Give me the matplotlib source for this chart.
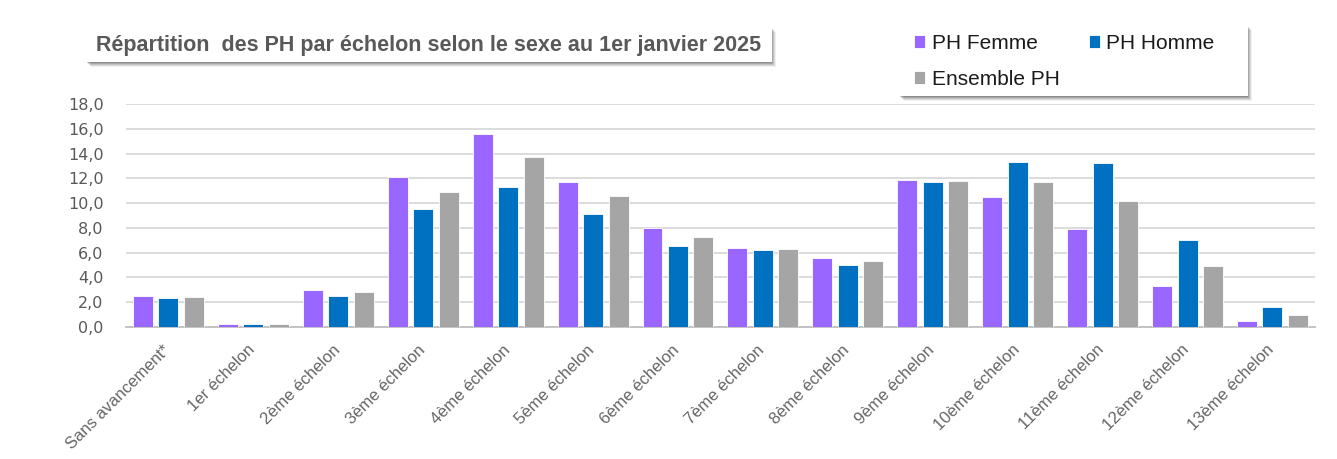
import matplotlib
matplotlib.use("Agg")
import matplotlib.pyplot as plt
from matplotlib.patches import Rectangle
from matplotlib.transforms import ScaledTranslation
import numpy as np

categories = ["Sans avancement*", "1er échelon", "2ème échelon", "3ème échelon",
              "4ème échelon", "5ème échelon", "6ème échelon", "7ème échelon",
              "8ème échelon", "9ème échelon", "10ème échelon", "11ème échelon",
              "12ème échelon", "13ème échelon"]
ph_femme = [2.5, 0.25, 3.0, 12.1, 15.6, 11.7, 8.0, 6.4, 5.6, 11.9, 10.5, 7.9, 3.3, 0.5]
ph_homme = [2.3, 0.25, 2.5, 9.5, 11.3, 9.1, 6.5, 6.2, 5.0, 11.7, 13.3, 13.2, 7.0, 1.6]
ensemble = [2.4, 0.25, 2.8, 10.9, 13.7, 10.6, 7.3, 6.3, 5.3, 11.8, 11.7, 10.2, 4.9, 1.0]
series_names = ["PH Femme", "PH Homme", "Ensemble PH"]
yticks = [0, 2, 4, 6, 8, 10, 12, 14, 16, 18]
title = "Répartition  des PH par échelon selon le sexe au 1er janvier 2025"

colors = ["#9966FF", "#0070C0", "#A5A5A5"]
txt_gray = "#595959"
W, H = 1337, 459

fig = plt.figure(figsize=(W / 100, H / 100), dpi=100)
ax = fig.add_axes([0.0942, 0.2876, 0.8893, 0.4858])

x = np.arange(len(categories))
w = 0.235
offs = [-0.3, 0.0, 0.3]
handles = []
for vals, off, c, name in zip([ph_femme, ph_homme, ensemble], offs, colors, series_names):
    b = ax.bar(x + off, vals, width=w, color=c, edgecolor="white", linewidth=0.6,
               label=name, zorder=3)
    handles.append(b)

ax.set_xlim(-0.5, len(categories) - 0.5)
ax.set_ylim(0, 18)
ax.set_yticks(yticks)
ax.set_yticklabels([f"{v:.1f}".replace(".", ",") for v in yticks],
                   fontsize=11.5, color=txt_gray, family="DejaVu Sans")
ax.yaxis.grid(True, color="#D9D9D9", linewidth=1.3, zorder=0)
ax.set_axisbelow(True)
for s in ["top", "right", "left"]:
    ax.spines[s].set_visible(False)
ax.spines["bottom"].set_color("#BFBFBF")
ax.spines["bottom"].set_linewidth(1.3)
ax.tick_params(axis="y", length=0, pad=16)
ax.tick_params(axis="x", length=0, pad=11)

ax.set_xticks(x)
ax.set_xticklabels(categories, rotation=45, ha="right", va="top",
                   rotation_mode="anchor", fontsize=12, color="#666666",
                   family="Liberation Sans")
for lab in ax.get_xticklabels():
    lab.set_transform(lab.get_transform() + ScaledTranslation(-6 / 100, 0, fig.dpi_scale_trans))


def shadow_box(x0, y0, x1, y1):
    """Box given in pixel coords (top-left origin) with a soft bottom-right shadow."""
    fx0, fx1 = x0 / W, x1 / W
    fy0, fy1 = 1 - y1 / H, 1 - y0 / H
    for i, a in zip(range(5, 0, -1), [0.08, 0.12, 0.16, 0.2, 0.25]):
        fig.add_artist(Rectangle((fx0 + (i - 1) / W, fy0 - i / H), fx1 - fx0, fy1 - fy0,
                                 transform=fig.transFigure, fc="#404040", ec="none",
                                 alpha=a, zorder=5))
    fig.add_artist(Rectangle((fx0, fy0), fx1 - fx0, fy1 - fy0, transform=fig.transFigure,
                             fc="white", ec="none", zorder=6))


# Title box
shadow_box(87, 27, 772, 62)
fig.text(96 / W, 1 - 46 / H, title, fontsize=15.5, fontweight="bold",
         color=txt_gray, family="Liberation Sans", ha="left", va="center", zorder=7)

# Legend box
shadow_box(900, 25, 1248, 96)
leg = fig.legend([handles[0], handles[2], handles[1]],
                 [series_names[0], series_names[2], series_names[1]],
                 ncol=2, loc="upper left", bbox_to_anchor=(914 / W, 1 - 34 / H),
                 frameon=False, prop={"family": "Liberation Sans", "size": 15},
                 handlelength=0.55, handleheight=0.55, handletextpad=0.3,
                 columnspacing=1.4, labelspacing=0.8, borderpad=0,
                 borderaxespad=0)
leg.set_zorder(8)
for txt in leg.get_texts():
    txt.set_color("#1a1a1a")

fig.savefig("out.png", dpi=100)
